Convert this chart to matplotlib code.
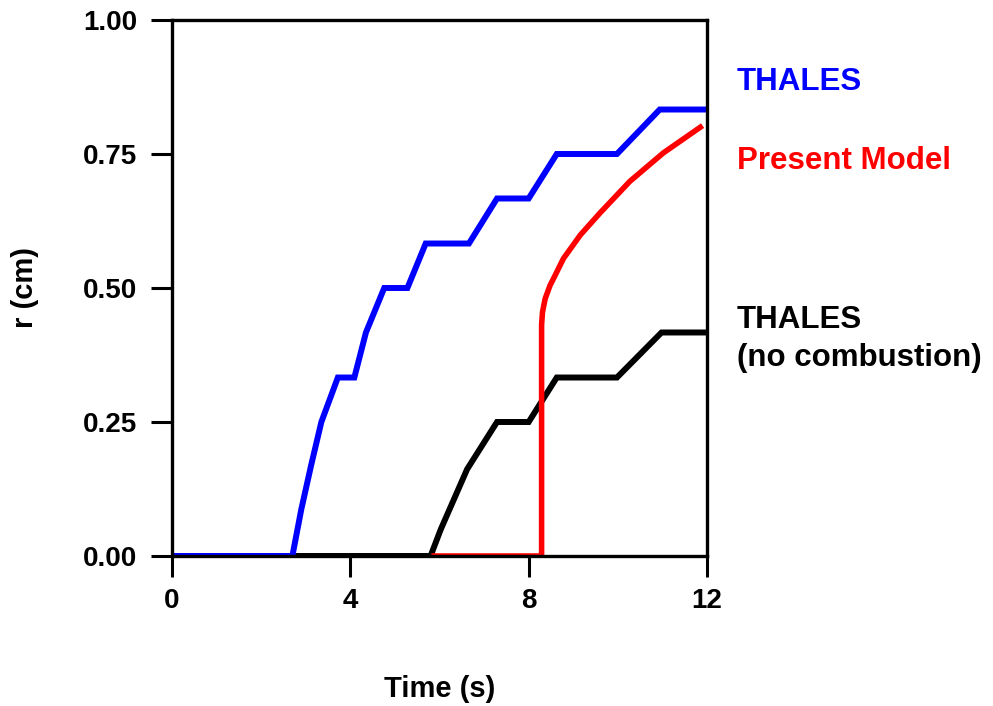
import matplotlib
matplotlib.use("Agg")
import matplotlib.pyplot as plt

plt.rcParams['font.family'] = ['Liberation Sans', 'DejaVu Sans']
plt.rcParams['font.weight'] = 'bold'

# THALES (with combustion)
t_thales = [0.0, 2.70, 2.90, 3.12, 3.35, 3.72, 4.09, 4.35, 4.76, 5.28, 5.69,
            6.66, 7.29, 8.00, 8.63, 9.98, 10.94, 12.0]
r_thales = [0.0, 0.0, 0.087, 0.169, 0.25, 0.333, 0.333, 0.417, 0.50, 0.50, 0.583,
            0.583, 0.667, 0.667, 0.75, 0.75, 0.833, 0.833]

# THALES (no combustion)
t_nocomb = [0.0, 5.80, 6.03, 6.62, 7.29, 8.00, 8.63, 9.98, 10.98, 12.0]
r_nocomb = [0.0, 0.0, 0.05, 0.162, 0.25, 0.25, 0.333, 0.333, 0.417, 0.417]

# present model
t_model = [5.88, 8.29, 8.29, 8.31, 8.37, 8.48, 8.56, 8.78, 9.16, 9.60, 10.27,
           11.02, 11.85]
r_model = [0.0, 0.0, 0.431, 0.455, 0.480, 0.505, 0.518, 0.555, 0.599, 0.640,
           0.699, 0.752, 0.800]

W, H = 993, 706
fig = plt.figure(figsize=(W / 100, H / 100), dpi=100)
ax = fig.add_axes([172 / W, 1 - 556 / H, 535 / W, 536 / H])

ax.plot(t_nocomb, r_nocomb, color='black', lw=4.3, solid_joinstyle='miter')
ax.plot(t_model, r_model, color='#ff0000', lw=4.0)
ax.plot(t_thales, r_thales, color='#0000ff', lw=4.3, solid_joinstyle='miter')

ax.set_xlim(0, 12)
ax.set_ylim(0, 1)
ax.set_xticks([0, 4, 8, 12])
ax.set_yticks([0, 0.25, 0.5, 0.75, 1.0])
ax.set_yticklabels(['0.00', '0.25', '0.50', '0.75', '1.00'])
ax.tick_params(direction='out', length=15, width=2.2, labelsize=20, color='black')
ax.tick_params(axis='y', pad=10)
ax.tick_params(axis='x', pad=8)
for s in ax.spines.values():
    s.set_linewidth(2.4)

fig.text(440 / W, 1 - 697 / H, 'Time (s)', fontsize=21, ha='center', va='baseline')
fig.text(25 / W, 1 - 288 / H, 'r (cm)', fontsize=21, ha='center', va='center',
         rotation=90)

fig.text(737 / W, 1 - 90 / H, 'THALES', color='#0000ff', fontsize=22.5,
         va='baseline')
fig.text(737 / W, 1 - 169 / H, 'Present Model', color='#ff0000', fontsize=22.5,
         va='baseline')
fig.text(737 / W, 1 - 328 / H, 'THALES', color='black', fontsize=22.5,
         va='baseline')
fig.text(737 / W, 1 - 366 / H, '(no combustion)', color='black', fontsize=22.5,
         va='baseline')

fig.savefig('out.png', dpi=100)
